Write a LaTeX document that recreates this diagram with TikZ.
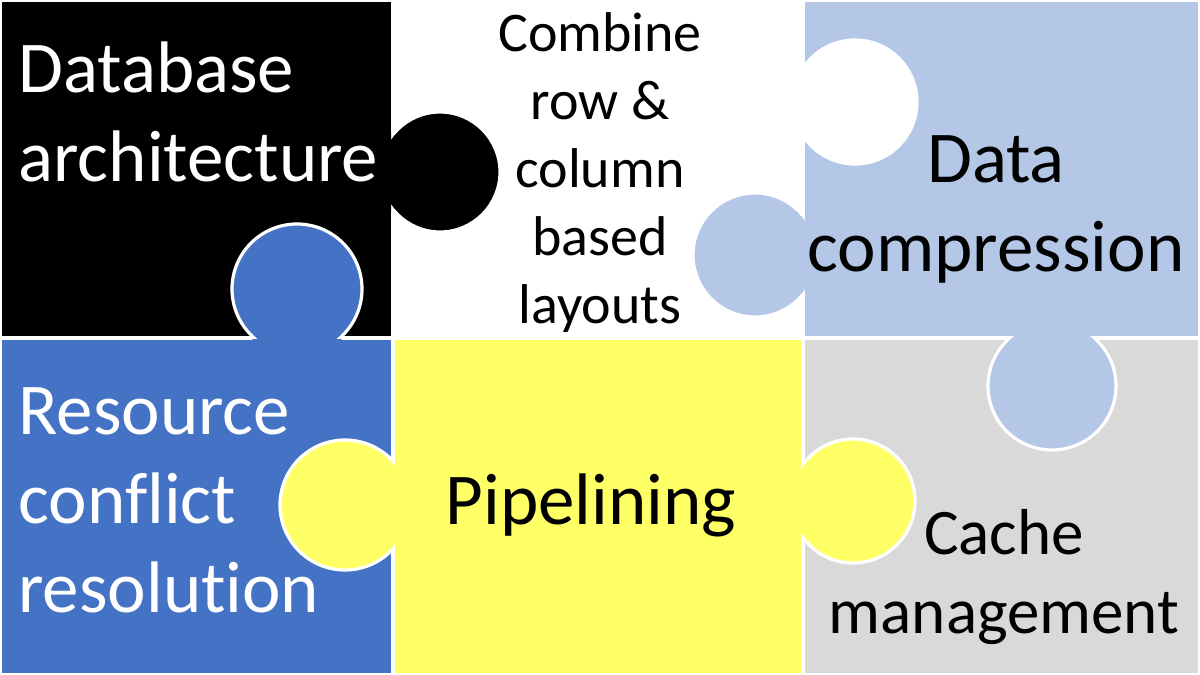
\documentclass[tikz,border=0pt]{standalone}
\usepackage{fontspec}
\setmainfont{Carlito}[Ligatures=NoCommon]
\usepackage{tikz}
\usetikzlibrary{positioning}
\definecolor{pzblue}{HTML}{4472C4}
\definecolor{pzyellow}{HTML}{FFFF66}
\definecolor{pzlight}{HTML}{B4C7E7}
\definecolor{pzgray}{HTML}{D9D9D9}
\tikzset{
  piece/.style={draw=white, line width=2pt},
  rim/.style={draw=white, line width=1.6pt},
  txt/.style={inner sep=0pt, align=center, font=\fontsize{36.5}{44.5}\selectfont},
  small/.style={txt, font=\fontsize{28}{34}\selectfont},
  mid/.style={txt, font=\fontsize{32.5}{39.5}\selectfont},
}
\begin{document}
\begin{tikzpicture}[x=0.5pt, y=-0.5pt]
\useasboundingbox[fill=white] (0,0) rectangle (1200,675);
\fill[black, piece] (0,0) rectangle (393,337.5);
\fill[pzlight, piece] (803,0) rectangle (1200,337.5);
\fill[pzblue, piece] (0,337.5) rectangle (393,675);
\fill[pzyellow, piece] (393,337.5) rectangle (803,675);
\fill[pzgray, piece] (803,337.5) rectangle (1200,675);
\foreach \col/\cx/\cy/\r/\ax/\ay/\bx/\by/\px/\py/\qx/\qy in {
    black/440/172/60/0/0/395/337.5/0/0/391/335,
    pzblue/297/289/65/0/335/393/675/0/339.5/391/675,
    pzyellow/345/505/65/391/337.5/803/675/395/339.5/803/675,
    pzyellow/853/501/62/393/337.5/805/675/393/339.5/801/675,
    pzlight/755/255/62/801/0/1200/337.5/805/0/1200/335.5,
    white/855/102/62/393/0/805/337.5/393/0/801/337.5,
    pzlight/1052/386/64/803/0/1200/339.5/805/0/1200/335.5}{
  \fill[\col, rim] (\cx,\cy) circle[radius=\r*0.5pt];
  \begin{scope}
    \clip (\ax,\ay) rectangle (\bx,\by);
    \fill[\col] (\cx,\cy) circle[radius=\r*0.5pt-0.8pt];
  \end{scope}
  \begin{scope}
    \clip (\px,\py) rectangle (\qx,\qy);
    \fill[\col] (\cx,\cy) circle[radius=\r*0.5pt+1.2pt];
  \end{scope}
}
\node[txt, text=white, align=left, anchor=west] (db) at (18,112) {Database\\architecture};
\node[small] (comb) at (600,173) {Combine\\row \&\\column\\based\\layouts};
\node[txt] (comp) at (996,209) {Data\\compression};
\node[txt, text=white, align=left, anchor=west] (res) at (18,500) {Resource\\conflict\\resolution};
\node[txt] (pipe) at (591,505) {Pipelining};
\node[mid] (cache) at (1004,577) {Cache\\management};
\end{tikzpicture}
\end{document}
